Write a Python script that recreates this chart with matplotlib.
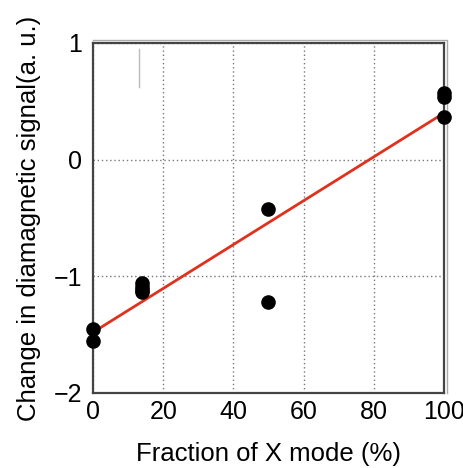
import matplotlib.pyplot as plt
import numpy as np

plt.rcParams['font.family'] = ['Liberation Sans', 'DejaVu Sans']

# data
x_pts = [0, 0, 14, 14, 14, 14, 50, 50, 100, 100, 100]
y_pts = [-1.45, -1.55, -1.06, -1.09, -1.12, -1.13, -0.42, -1.22, 0.57, 0.54, 0.37]
fit_x = [0, 100]
fit_y = [-1.48, 0.40]
xticks = [0, 20, 40, 60, 80, 100]
yticks = [-2, -1, 0, 1]
ytick_labels = ['\u22122', '\u22121', '0', '1']

fig = plt.figure(figsize=(4.64, 4.68), dpi=100)
ax = fig.add_axes([93/464, 1 - 393/468, 351/464, 350/468])

ax.plot(fit_x, fit_y, color='#e0301e', lw=2, zorder=3)
ax.scatter(x_pts, y_pts, s=90, color='black', zorder=4, clip_on=False)

ax.set_xlim(0, 100)
ax.set_ylim(-2, 1)
ax.set_xticks(xticks)
ax.set_yticks(yticks)
ax.set_yticklabels(ytick_labels)
ax.tick_params(length=0, labelsize=18)
ax.tick_params(axis='x', pad=5)
ax.tick_params(axis='y', pad=8)
ax.grid(True, color='#777777', linestyle=(0, (1, 2)), lw=1)

for s in ax.spines.values():
    s.set_color('#444444')
    s.set_linewidth(1.6)

# light outer frame on top and right
ax.plot([0, 1.008, 1.008], [1.008, 1.008, 0], transform=ax.transAxes,
        color='#aaaaaa', lw=1, clip_on=False)
# faint stray mark near the top
ax.plot([13, 13], [0.62, 0.95], color='#bbbbbb', lw=1)

ax.set_xlabel('Fraction of X mode (%)', fontsize=18.5, labelpad=13)
ax.set_ylabel('Change in diamagnetic signal(a. u.)', fontsize=18.5, labelpad=9)

fig.savefig('out.png', dpi=100)
